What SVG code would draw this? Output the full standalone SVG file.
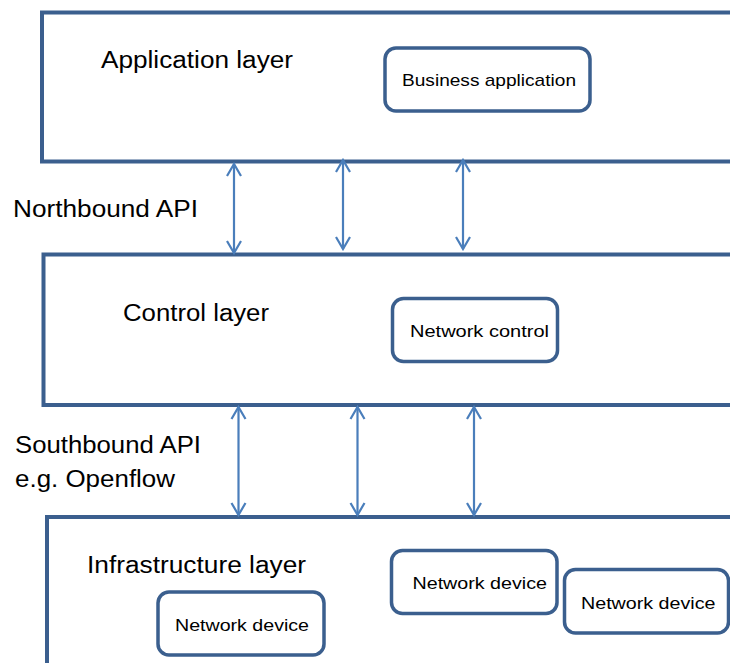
<svg xmlns="http://www.w3.org/2000/svg" width="730" height="663" viewBox="0 0 730 663">
<defs>
<style>
.layer{fill:#fff;stroke:#3b5f8e;stroke-width:4}
.box{fill:#fff;stroke:#3b5f8e;stroke-width:3.5}
.big{font-family:"Liberation Sans",Arial,sans-serif;font-size:23px;fill:#000}
.small{font-family:"Liberation Sans",Arial,sans-serif;font-size:17px;fill:#000}
.arr{stroke:#4a7ebb;stroke-width:2.2;fill:none;marker-start:url(#ah);marker-end:url(#ah)}
</style>
<marker id="ah" markerUnits="userSpaceOnUse" viewBox="-14 -9 16 18" refX="0" refY="0" markerWidth="16" markerHeight="18" orient="auto-start-reverse">
<path d="M-12,-7 L0,0 L-12,7" fill="none" stroke="#4a7ebb" stroke-width="2.2"/>
</marker>
</defs>
<rect width="730" height="663" fill="#fff"/>
<g id="application-layer">
<rect class="layer" x="42" y="12.5" width="700" height="149"/>
<text class="big" x="101" y="68" textLength="192" lengthAdjust="spacingAndGlyphs">Application layer</text>
</g>
<g id="business-application">
<rect class="box" x="385" y="48" width="205" height="63" rx="11"/>
<text class="small" x="402" y="86" textLength="174" lengthAdjust="spacingAndGlyphs">Business application</text>
</g>
<g id="control-layer">
<rect class="layer" x="43.5" y="254.5" width="700" height="150.5"/>
<text class="big" x="123" y="321" textLength="146" lengthAdjust="spacingAndGlyphs">Control layer</text>
</g>
<g id="network-control">
<rect class="box" x="392.5" y="298.5" width="165" height="63" rx="11"/>
<text class="small" x="410" y="337" textLength="139" lengthAdjust="spacingAndGlyphs">Network control</text>
</g>
<g id="infrastructure-layer">
<rect class="layer" x="47" y="517" width="700" height="170"/>
<text class="big" x="87" y="573" textLength="219" lengthAdjust="spacingAndGlyphs">Infrastructure layer</text>
</g>
<g id="network-device-1">
<rect class="box" x="158" y="592" width="166" height="63" rx="11"/>
<text class="small" x="175" y="631" textLength="134" lengthAdjust="spacingAndGlyphs">Network device</text>
</g>
<g id="network-device-2">
<rect class="box" x="391.5" y="550.5" width="165.5" height="63" rx="11"/>
<text class="small" x="412.5" y="589" textLength="134.5" lengthAdjust="spacingAndGlyphs">Network device</text>
</g>
<g id="network-device-3">
<rect class="box" x="564.5" y="569.5" width="164" height="63.5" rx="11"/>
<text class="small" x="581" y="609" textLength="134.5" lengthAdjust="spacingAndGlyphs">Network device</text>
</g>
<g id="labels">
<text class="big" x="13" y="217" textLength="185" lengthAdjust="spacingAndGlyphs">Northbound API</text>
<text class="big" x="15" y="453" textLength="186" lengthAdjust="spacingAndGlyphs">Southbound API</text>
<text class="big" x="15" y="487" textLength="160" lengthAdjust="spacingAndGlyphs">e.g. Openflow</text>
</g>
<g id="connectors">
<line class="arr" x1="234" y1="164" x2="234" y2="253"/>
<line class="arr" x1="343" y1="160" x2="343" y2="249"/>
<line class="arr" x1="463" y1="160" x2="463" y2="249"/>
<line class="arr" x1="238.5" y1="407" x2="238.5" y2="515"/>
<line class="arr" x1="357.5" y1="407" x2="357.5" y2="515"/>
<line class="arr" x1="474" y1="407" x2="474" y2="515"/>
</g>
</svg>
